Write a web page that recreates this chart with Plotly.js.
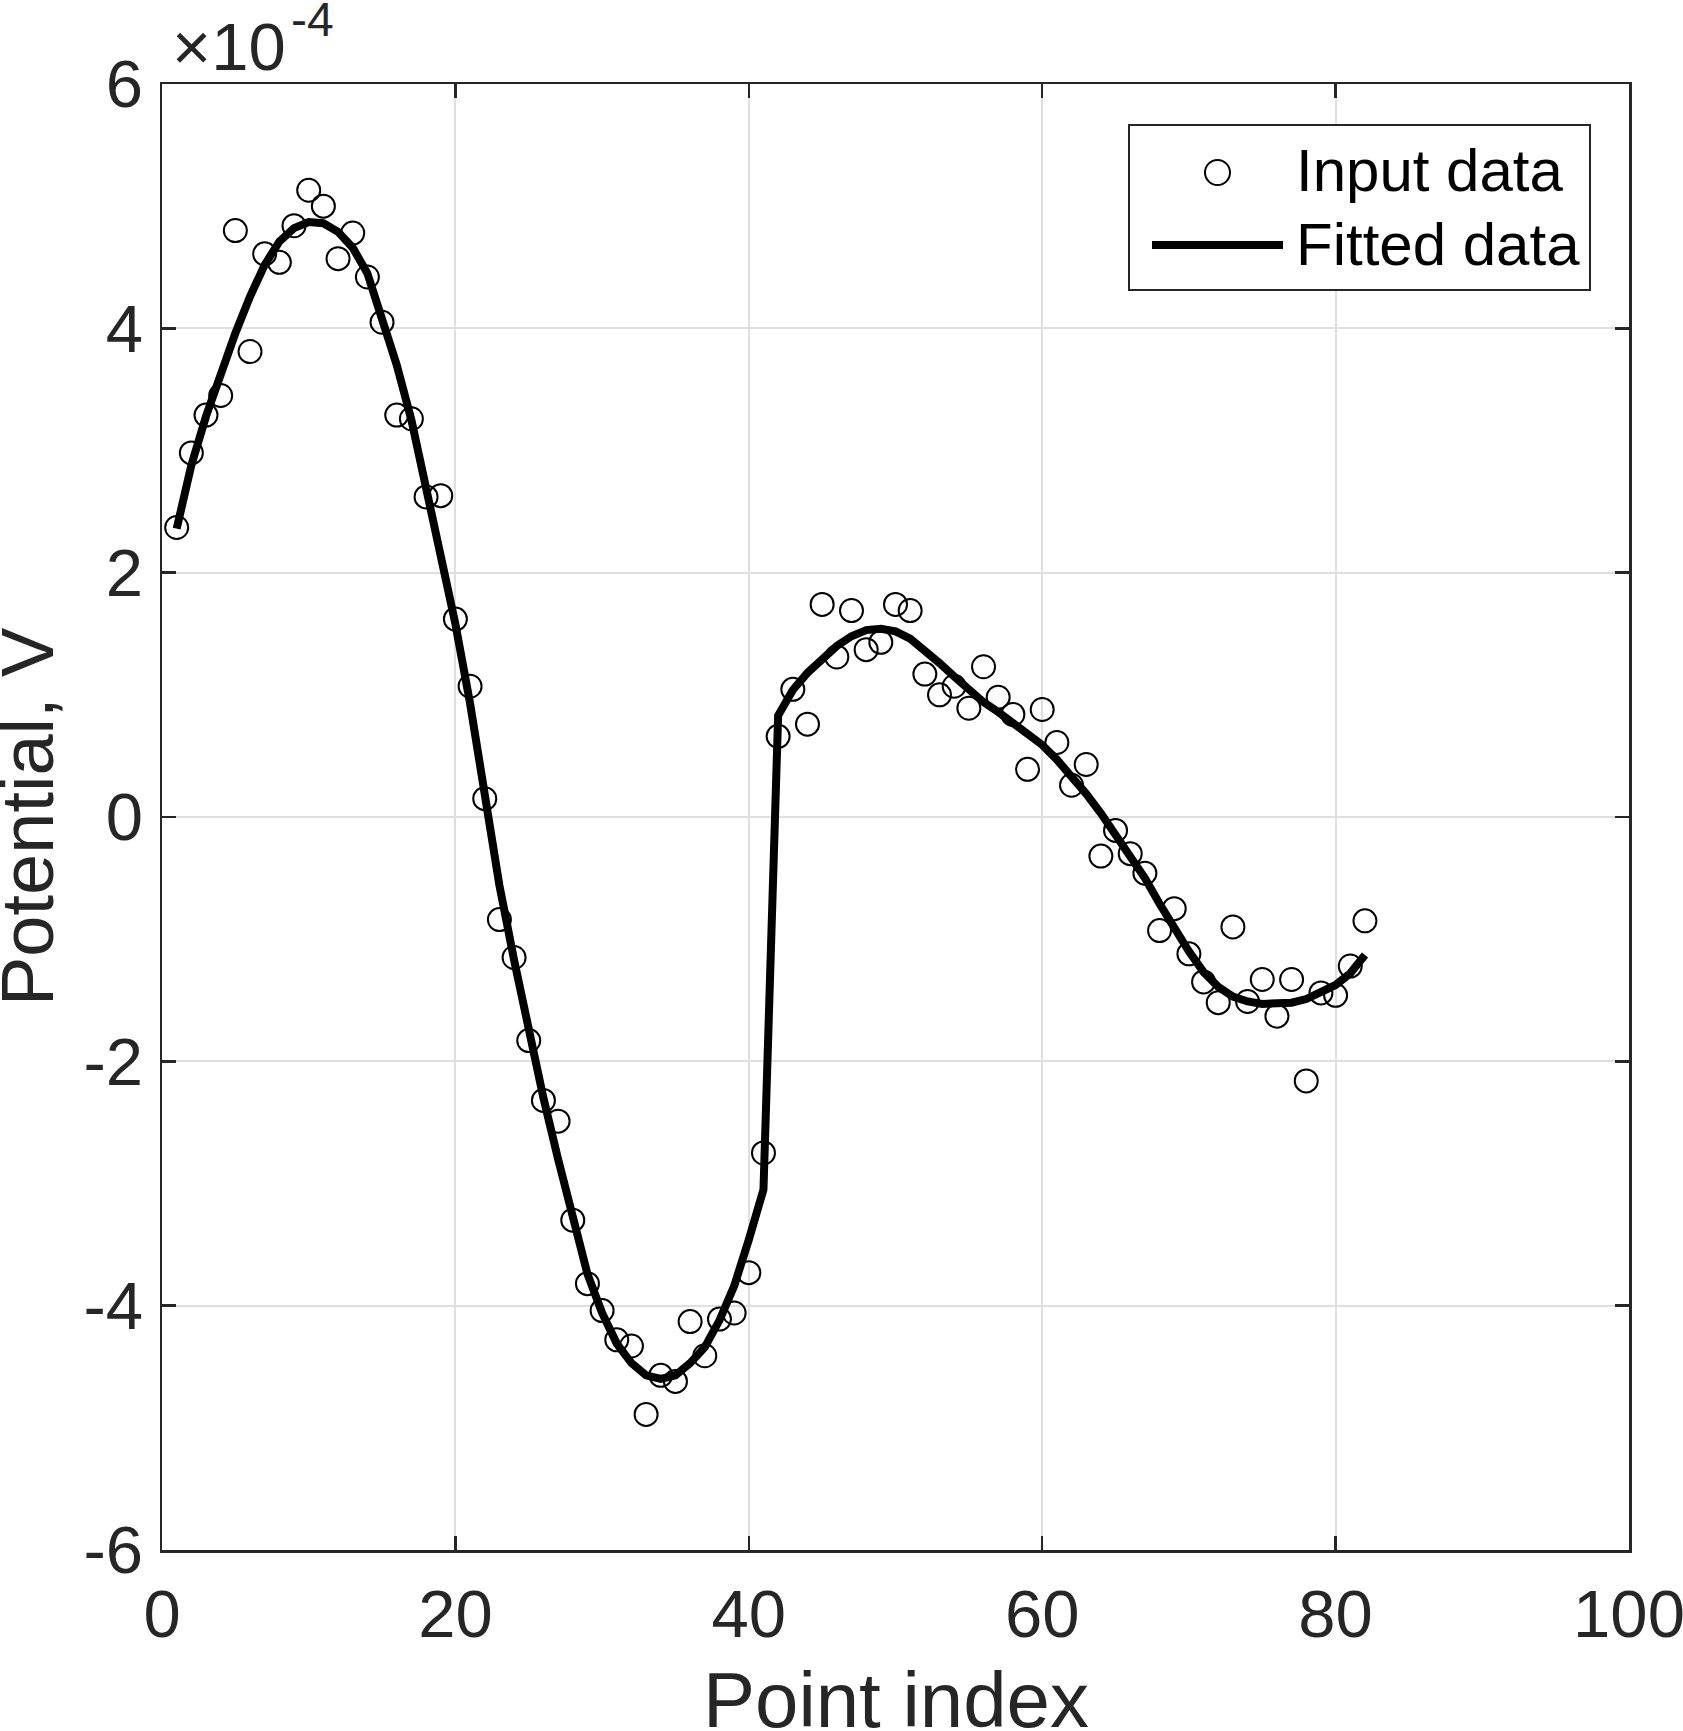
<!DOCTYPE html>
<html>
<head>
<meta charset="utf-8">
<script src="https://cdn.plot.ly/plotly-3.0.1.min.js"></script>
<style>
  html, body { margin: 0; padding: 0; background: #fff; }
  #chart { width: 1683px; height: 1731px; }
</style>
</head>
<body>
<div id="chart"></div>
<script>
// values in units of 1e-4 V (axis carries the x10^-4 multiplier)
const pointIndex = Array.from({ length: 82 }, (_, i) => i + 1);

const inputData = [
    2.37, 2.98, 3.29, 3.45, 4.80, 3.81, 4.61, 4.54, 4.84, 5.13,
    5.00, 4.57, 4.78, 4.42, 4.05, 3.29, 3.26, 2.62, 2.63, 1.62,
    1.07, 0.15, -0.84, -1.15, -1.83, -2.32, -2.49, -3.30, -3.82, -4.04,
    -4.28, -4.33, -4.89, -4.57, -4.62, -4.13, -4.41, -4.11, -4.06, -3.73,
    -2.75, 0.66, 1.045, 0.76, 1.74, 1.31, 1.69, 1.37, 1.43, 1.74,
    1.69, 1.17, 1.00, 1.07, 0.89, 1.23, 0.98, 0.84, 0.39, 0.88,
    0.61, 0.26, 0.43, -0.32, -0.11, -0.30, -0.46, -0.93, -0.75, -1.12,
    -1.35, -1.52, -0.90, -1.51, -1.33, -1.63, -1.33, -2.16, -1.44, -1.46,
    -1.22, -0.85,
];

const fittedData = [
    2.36, 2.88, 3.28, 3.63, 3.96, 4.26, 4.52, 4.71, 4.82, 4.87,
    4.86, 4.79, 4.66, 4.45, 4.10, 3.70, 3.25, 2.70, 2.12, 1.58,
    0.93, 0.17, -0.56, -1.17, -1.77, -2.30, -2.80, -3.30, -3.74, -4.06,
    -4.31, -4.47, -4.57, -4.60, -4.57, -4.47, -4.34, -4.12, -3.84, -3.46,
    -3.05, 0.83, 1.04, 1.18, 1.30, 1.40, 1.48, 1.53, 1.54, 1.52,
    1.46, 1.37, 1.26, 1.15, 1.04, 0.94, 0.86, 0.77, 0.68, 0.59,
    0.47, 0.34, 0.19, 0.03, -0.15, -0.31, -0.50, -0.71, -0.91, -1.10,
    -1.27, -1.39, -1.47, -1.51, -1.53, -1.53, -1.52, -1.49, -1.44, -1.375,
    -1.28, -1.13,
];

const yTicks = [-6, -4, -2, 0, 2, 4, 6];
const yTickText = ["-6", "-4", "-2", "0", "2", "4", "6"];
const xTicks = [0, 20, 40, 60, 80, 100];
const legendLabels = ["Input data", "Fitted data"];

const FONT = "Liberation Sans, Arial, Helvetica, sans-serif";
const INK = "#262626";
const GRID = "#dfdfdf";

// plot box in page pixels, used to place the hand-drawn legend and titles
const W = 1683, H = 1731;
const M = { l: 162, r: 54, t: 84, b: 181 };
const px = (x) => (x - M.l) / (W - M.l - M.r);
const py = (y) => (H - M.b - y) / (H - M.t - M.b);

const axisCommon = {
    showline: true, linecolor: INK, linewidth: 2.5, mirror: "ticks",
    ticks: "inside", ticklen: 14, tickwidth: 2.5, tickcolor: INK,
    showgrid: true, gridcolor: GRID, gridwidth: 2,
    zeroline: false, automargin: false, ticklabeloverflow: "allow",
    tickfont: { family: FONT, size: 67, color: INK },
};

const traces = [
    {
        x: pointIndex, y: inputData, mode: "markers", type: "scatter", name: legendLabels[0],
        marker: { symbol: "circle-open", size: 23, color: "#000", line: { width: 2, color: "#000" } },
    },
    {
        x: pointIndex, y: fittedData, mode: "lines", type: "scatter", name: legendLabels[1],
        line: { color: "#000", width: 8 },
    },
];

const legendFont = { family: FONT, size: 60, color: "#000" };

const layout = {
    width: W, height: H,
    margin: M,
    paper_bgcolor: "#fff", plot_bgcolor: "#fff",
    font: { family: FONT, color: INK },
    showlegend: false,
    xaxis: Object.assign({}, axisCommon, {
        range: [0, 100], tickvals: xTicks, ticklabelstandoff: 4,
    }),
    yaxis: Object.assign({}, axisCommon, {
        range: [-6, 6], tickvals: yTicks, ticktext: yTickText, ticklabelstandoff: 3,
    }),
    shapes: [
        // legend box
        { type: "rect", xref: "paper", yref: "paper", x0: px(1129), x1: px(1590), y0: py(290), y1: py(125),
          fillcolor: "#fff", line: { color: INK, width: 2 }, layer: "above" },
        // legend sample: circle
        { type: "circle", xref: "paper", yref: "paper", x0: px(1205), x1: px(1230), y0: py(185), y1: py(160),
          line: { color: "#000", width: 2 }, layer: "above" },
        // legend sample: line
        { type: "line", xref: "paper", yref: "paper", x0: px(1152), x1: px(1283), y0: py(245), y1: py(245),
          line: { color: "#000", width: 8 }, layer: "above" },
    ],
    annotations: [
        { xref: "paper", yref: "paper", x: px(1294), y: py(170), xanchor: "left", yanchor: "middle",
          text: legendLabels[0], showarrow: false, font: legendFont },
        { xref: "paper", yref: "paper", x: px(1294), y: py(244), xanchor: "left", yanchor: "middle",
          text: legendLabels[1], showarrow: false, font: legendFont },
        // axis titles
        { xref: "paper", yref: "paper", x: 0.5, y: py(1746), xanchor: "center", yanchor: "bottom",
          text: "Point index", showarrow: false, font: { family: FONT, size: 78, color: INK } },
        { xref: "paper", yref: "paper", x: px(27), y: 0.5, xanchor: "center", yanchor: "middle", textangle: -90,
          text: "Potential, V", showarrow: false, font: { family: FONT, size: 74, color: INK } },
        // axis exponent
        { xref: "paper", yref: "paper", x: px(170), y: 1, xanchor: "left", yanchor: "bottom", yshift: -2,
          text: "\u00d710", showarrow: false, font: { family: FONT, size: 67, color: INK } },
        { xref: "paper", yref: "paper", x: px(289), y: py(48), xanchor: "left", yanchor: "bottom",
          text: "-4", showarrow: false, font: { family: FONT, size: 48, color: INK } },
    ],
};

Plotly.newPlot("chart", traces, layout, { displayModeBar: false, staticPlot: true });
</script>
</body>
</html>
